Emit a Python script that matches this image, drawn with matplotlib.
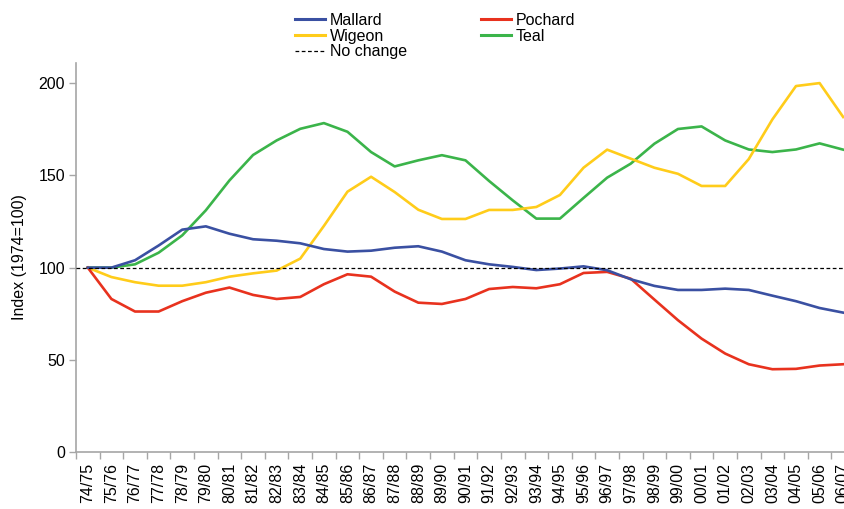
import matplotlib.pyplot as plt
from matplotlib.lines import Line2D

plt.rcParams['font.family'] = ['Liberation Sans', 'DejaVu Sans']

# season labels, 1974/75 .. 2006/07
seasons = ['74/75', '75/76', '76/77', '77/78', '78/79', '79/80', '80/81',
           '81/82', '82/83', '83/84', '84/85', '85/86', '86/87', '87/88',
           '88/89', '89/90', '90/91', '91/92', '92/93', '93/94', '94/95',
           '95/96', '96/97', '97/98', '98/99', '99/00', '00/01', '01/02',
           '02/03', '03/04', '04/05', '05/06', '06/07']

# index values (1974 = 100)
mallard = [100, 100, 104, 112, 120.6, 122.4, 118.4, 115.4, 114.6, 113.2,
           110.1, 108.7, 109.2, 110.8, 111.6, 108.7, 104.0, 101.8, 100.4,
           98.7, 99.5, 100.7, 98.6, 93.7, 90.1, 87.9, 87.9, 88.6, 87.9,
           84.8, 81.8, 78.1, 75.6]
pochard = [100, 83.0, 76.2, 76.2, 81.8, 86.4, 89.2, 85.2, 83.0, 84.1,
           91.0, 96.4, 95.1, 87.0, 81.0, 80.3, 83.0, 88.4, 89.5, 88.8,
           91.0, 97.1, 97.7, 94.0, 82.7, 71.5, 61.5, 53.4, 47.6, 44.9,
           45.1, 46.9, 47.6]
wigeon = [100, 94.9, 92.1, 90.2, 90.2, 92.1, 95.1, 96.9, 98.4, 104.9,
          122.6, 141.2, 149.3, 141.0, 131.4, 126.4, 126.4, 131.3, 131.3,
          132.9, 139.4, 154.2, 164.0, 159.1, 154.2, 150.9, 144.3, 144.3,
          158.9, 180.4, 198.5, 200.1, 181.7]
teal = [100, 100, 101.8, 108.1, 117.5, 131.1, 147.3, 161.1, 169.0, 175.3,
        178.4, 173.7, 162.7, 154.9, 158.2, 161.0, 158.2, 147.0, 136.5,
        126.6, 126.6, 137.8, 148.8, 156.4, 167.2, 175.2, 176.6, 169.0,
        164.1, 162.7, 164.1, 167.4, 164.0]

BLUE   = '#3a50a2'
RED    = '#e8321e'
YELLOW = '#ffcc1a'
GREEN  = '#3bb44a'
GREY   = '#a6a6a6'

fig = plt.figure(figsize=(8.44, 5.09), dpi=100)
# axes runs a little past the right edge, as in the original crop
ax = fig.add_axes([76/844, 57/509, (855-76)/844, (452-63)/509])

x = range(len(seasons))
lw = 1.9
ax.plot(x, teal, color=GREEN, lw=lw)
ax.plot(x, wigeon, color=YELLOW, lw=lw)
ax.plot(x, pochard, color=RED, lw=lw)
ax.plot(x, mallard, color=BLUE, lw=lw)
ax.axhline(100, color='black', lw=0.9, ls=(0, (3, 2)), zorder=5)

ax.set_xlim(-0.5, len(seasons) - 0.5)
ax.set_ylim(0, 211)
ax.set_yticks([0, 50, 100, 150, 200])
ax.set_xticks(list(x))
ax.set_xticklabels(seasons, rotation=90, fontsize=11.5)
ax.set_xticks([i - 0.5 for i in range(len(seasons) + 1)], minor=True)
ax.tick_params(axis='x', which='major', length=0, pad=8)
ax.tick_params(axis='x', which='minor', length=5, color=GREY, width=1)
ax.tick_params(axis='y', length=5, color=GREY, width=1, labelsize=11.5, pad=3)

for s in ['top', 'right']:
    ax.spines[s].set_visible(False)
for s in ['left', 'bottom']:
    ax.spines[s].set_color(GREY)
    ax.spines[s].set_linewidth(1.2)

ax.set_ylabel('Index (1974=100)', fontsize=11.5, labelpad=8)

handles = [Line2D([], [], color=BLUE, lw=2.2),
           Line2D([], [], color=YELLOW, lw=2.2),
           Line2D([], [], color='black', lw=0.9, ls=(0, (3, 2))),
           Line2D([], [], color=RED, lw=2.2),
           Line2D([], [], color=GREEN, lw=2.2)]
labels = ['Mallard', 'Wigeon', 'No change', 'Pochard', 'Teal']
fig.legend(handles, labels, ncol=2, frameon=False, fontsize=11.5,
           loc='upper left', bbox_to_anchor=(282/844, 1.0),
           handlelength=1.9, handletextpad=0.3, labelspacing=0.05,
           columnspacing=4.6, borderpad=0.3)

fig.savefig('out.png', dpi=100)
